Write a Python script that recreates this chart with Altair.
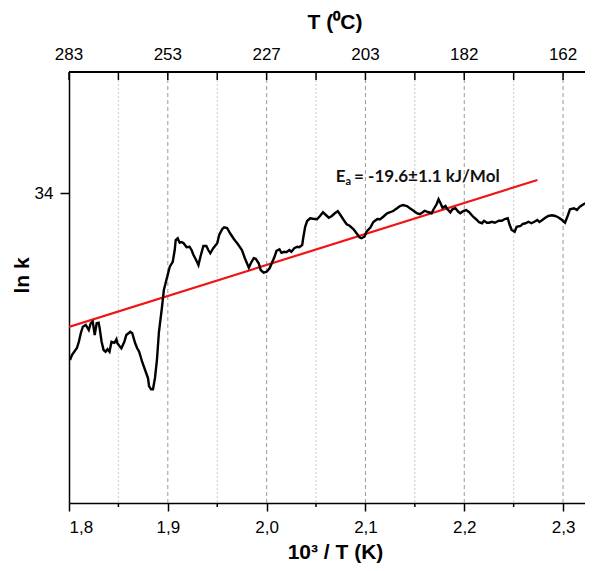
import altair as alt
import pandas as pd

# ---- data ----
inv_T = [1.801, 1.803, 1.808, 1.810, 1.812, 1.814, 1.817, 1.820, 1.822, 1.824,
         1.825, 1.826, 1.828, 1.830, 1.831, 1.833, 1.835, 1.837, 1.839, 1.841,
         1.843, 1.846, 1.848, 1.849, 1.851, 1.853, 1.856, 1.858, 1.862, 1.864,
         1.867, 1.869, 1.871, 1.874, 1.877, 1.880, 1.881, 1.883, 1.885, 1.887,
         1.889, 1.891, 1.894, 1.896, 1.899, 1.902, 1.905, 1.907, 1.908, 1.910,
         1.912, 1.914, 1.916, 1.919, 1.922, 1.924, 1.926, 1.929, 1.931, 1.933,
         1.936, 1.939, 1.941, 1.943, 1.946, 1.950, 1.952, 1.955, 1.957, 1.960,
         1.963, 1.967, 1.971, 1.975, 1.978, 1.982, 1.984, 1.987, 1.989, 1.992,
         1.994, 1.997, 2.000, 2.003, 2.008, 2.010, 2.013, 2.015, 2.018, 2.020,
         2.023, 2.025, 2.028, 2.031, 2.033, 2.036, 2.037, 2.039, 2.041, 2.044,
         2.047, 2.051, 2.054, 2.057, 2.060, 2.063, 2.066, 2.069, 2.072, 2.074,
         2.078, 2.081, 2.084, 2.088, 2.091, 2.094, 2.096, 2.099, 2.101, 2.105,
         2.108, 2.112, 2.115, 2.118, 2.122, 2.125, 2.128, 2.132, 2.135, 2.138,
         2.142, 2.145, 2.149, 2.152, 2.155, 2.158, 2.160, 2.164, 2.167, 2.169,
         2.172, 2.174, 2.176, 2.178, 2.181, 2.183, 2.186, 2.188, 2.191, 2.194,
         2.196, 2.199, 2.202, 2.205, 2.209, 2.212, 2.215, 2.218, 2.220, 2.223,
         2.225, 2.228, 2.231, 2.235, 2.238, 2.241, 2.244, 2.246, 2.248, 2.251,
         2.253, 2.257, 2.259, 2.262, 2.265, 2.268, 2.271, 2.274, 2.276, 2.279,
         2.282, 2.285, 2.289, 2.292, 2.295, 2.299, 2.302, 2.305, 2.307, 2.311,
         2.314, 2.317, 2.321, 2.323, 2.326, 2.329]
ln_k = [32.664, 32.704, 32.760, 32.810, 32.880, 32.930, 32.944, 32.904, 32.958, 32.970,
        32.920, 32.864, 32.958, 32.962, 32.920, 32.810, 32.744, 32.730, 32.750, 32.730,
        32.810, 32.802, 32.830, 32.798, 32.776, 32.758, 32.810, 32.864, 32.890, 32.878,
        32.798, 32.758, 32.730, 32.650, 32.584, 32.518, 32.456, 32.430, 32.430, 32.520,
        32.664, 32.888, 33.080, 33.224, 33.318, 33.410, 33.450, 33.544, 33.624, 33.638,
        33.602, 33.608, 33.598, 33.566, 33.570, 33.544, 33.504, 33.458, 33.424, 33.490,
        33.576, 33.576, 33.544, 33.518, 33.558, 33.598, 33.664, 33.710, 33.726, 33.720,
        33.678, 33.630, 33.590, 33.544, 33.478, 33.402, 33.438, 33.478, 33.474, 33.438,
        33.384, 33.362, 33.370, 33.398, 33.490, 33.538, 33.550, 33.522, 33.530, 33.526,
        33.544, 33.530, 33.558, 33.570, 33.566, 33.584, 33.638, 33.730, 33.776, 33.798,
        33.794, 33.790, 33.816, 33.846, 33.824, 33.802, 33.816, 33.838, 33.854, 33.832,
        33.784, 33.750, 33.738, 33.710, 33.678, 33.646, 33.638, 33.650, 33.690, 33.724,
        33.768, 33.792, 33.790, 33.810, 33.838, 33.846, 33.856, 33.878, 33.896, 33.904,
        33.896, 33.878, 33.856, 33.838, 33.830, 33.846, 33.858, 33.846, 33.838, 33.870,
        33.910, 33.950, 33.918, 33.882, 33.896, 33.870, 33.846, 33.870, 33.878, 33.850,
        33.838, 33.856, 33.864, 33.846, 33.810, 33.790, 33.766, 33.758, 33.778, 33.762,
        33.762, 33.770, 33.762, 33.778, 33.778, 33.792, 33.798, 33.744, 33.704, 33.690,
        33.730, 33.736, 33.752, 33.758, 33.770, 33.758, 33.770, 33.784, 33.768, 33.784,
        33.802, 33.816, 33.822, 33.816, 33.806, 33.784, 33.762, 33.824, 33.870, 33.878,
        33.864, 33.890, 33.912, 33.918, 33.904, 33.890]

fit_x = [1.800, 2.274]
fit_y = [32.928, 34.104]

major_ticks = [1.8, 1.9, 2.0, 2.1, 2.2, 2.3]
minor_ticks = [1.85, 1.95, 2.05, 2.15, 2.25]
major_grid = [1.9, 2.0, 2.1, 2.2, 2.3]
top_labels = ["283", "253", "227", "203", "182", "162"]

ann_x = [2.070, 2.0797, 2.0885]
ann_y = [34.088, 34.064, 34.088]
ann_text = ["E", "a", "= -19.6\u00b11.1 kJ/Mol"]
ann_size = [17, 11, 17]

W, H = 516, 431
xs = alt.Scale(domain=[1.8, 2.3222], nice=False, zero=False)
ys = alt.Scale(domain=[31.52, 34.968], nice=False, zero=False)
FONT = "Liberation Sans"

curve = pd.DataFrame({"x": inv_T, "y": ln_k})
fit = pd.DataFrame({"x": fit_x, "y": fit_y})
minor_df = pd.DataFrame({"x": minor_ticks})
major_grid_df = pd.DataFrame({"x": major_grid})
top_df = pd.DataFrame({"x": major_ticks, "t": top_labels})
all_ticks_df = pd.DataFrame({"x": sorted(major_ticks + minor_ticks)})

x_enc = alt.X("x:Q", scale=xs,
              axis=alt.Axis(values=major_ticks, title="10\u00b3 / T (K)",
                            labelExpr="replace(format(datum.value, '.1f'), '.', ',')",
                            labelFont=FONT, labelFontSize=17, labelColor="#000",
                            labelPadding=8, tickSize=8, tickColor="#000", tickWidth=1.5,
                            domainColor="#000", domainWidth=1.5, grid=False,
                            titleFont=FONT, titleFontSize=21, titleFontWeight="bold",
                            titleColor="#000", titleX=266, titleY=49,
                            titleBaseline="middle", titleAlign="center"))
y_enc = alt.Y("y:Q", scale=ys,
              axis=alt.Axis(values=[34], format="d", title="ln k", labelFont=FONT,
                            labelFontSize=17, labelColor="#000", labelPadding=7,
                            tickSize=9, tickColor="#000", tickWidth=1.5,
                            domainColor="#000", domainWidth=1.5, grid=False,
                            titleFont=FONT, titleFontSize=21, titleFontWeight="bold",
                            titleColor="#000", titleX=-47, titleY=203, titleAngle=270,
                            titleAlign="center", titleBaseline="middle"))

xn = alt.X("x:Q", scale=xs)

minor_grid = alt.Chart(minor_df).mark_rule(color="#cccccc", strokeWidth=1, strokeDash=[2, 2]).encode(
    x=xn, y=alt.value(0), y2=alt.value(H))
major_grid_l = alt.Chart(major_grid_df).mark_rule(color="#999999", strokeWidth=1, strokeDash=[4, 3]).encode(
    x=xn, y=alt.value(0), y2=alt.value(H))

fit_line = alt.Chart(fit).mark_line(color="#f01414", strokeWidth=2.2, clip=True).encode(
    x=x_enc, y=y_enc)
curve_line = alt.Chart(curve).mark_line(color="#000000", strokeWidth=2.4, clip=True).encode(
    x=xn, y=alt.Y("y:Q", scale=ys))

top_line = alt.Chart(top_df).mark_rule(color="#000", strokeWidth=1.5).encode(
    x=alt.value(0), x2=alt.value(W), y=alt.value(0))
top_ticks = alt.Chart(all_ticks_df).mark_rule(color="#000", strokeWidth=1.5).encode(
    x=xn, y=alt.value(0), y2=alt.value(8))
bottom_minor = alt.Chart(minor_df).mark_rule(color="#000", strokeWidth=1.5).encode(
    x=xn, y=alt.value(H), y2=alt.value(H + 4))
top_text = alt.Chart(top_df).mark_text(font=FONT, fontSize=17, color="#000",
                                       baseline="middle", align="center").encode(
    x=xn, y=alt.value(-17), text="t:N")
top_title = alt.Chart(top_df.head(1)).mark_text(font=FONT, fontSize=21, fontWeight="bold",
                                                color="#000", baseline="middle",
                                                align="center").encode(
    x=alt.value(266), y=alt.value(-49), text=alt.value("T (\u2070C)"))

ann_df = pd.DataFrame({"x": ann_x, "y": ann_y, "t": ann_text, "s": ann_size})
ann = alt.Chart(ann_df).mark_text(font="Lato", fontWeight="bold", color="#111",
                                  align="left", baseline="alphabetic").encode(
    x=xn, y=alt.Y("y:Q", scale=ys), text="t:N",
    size=alt.Size("s:Q", scale=None, legend=None))

chart = alt.layer(minor_grid, major_grid_l, fit_line, curve_line, top_line, top_ticks,
                  bottom_minor, top_text, top_title, ann).properties(
    width=W, height=H,
    autosize=alt.AutoSizeParams(type="none"),
    padding={"left": 61, "top": 64, "right": 0, "bottom": 60},
).configure_view(strokeWidth=0)

chart.save("out.html", embed_options={"renderer": "svg", "actions": False})
